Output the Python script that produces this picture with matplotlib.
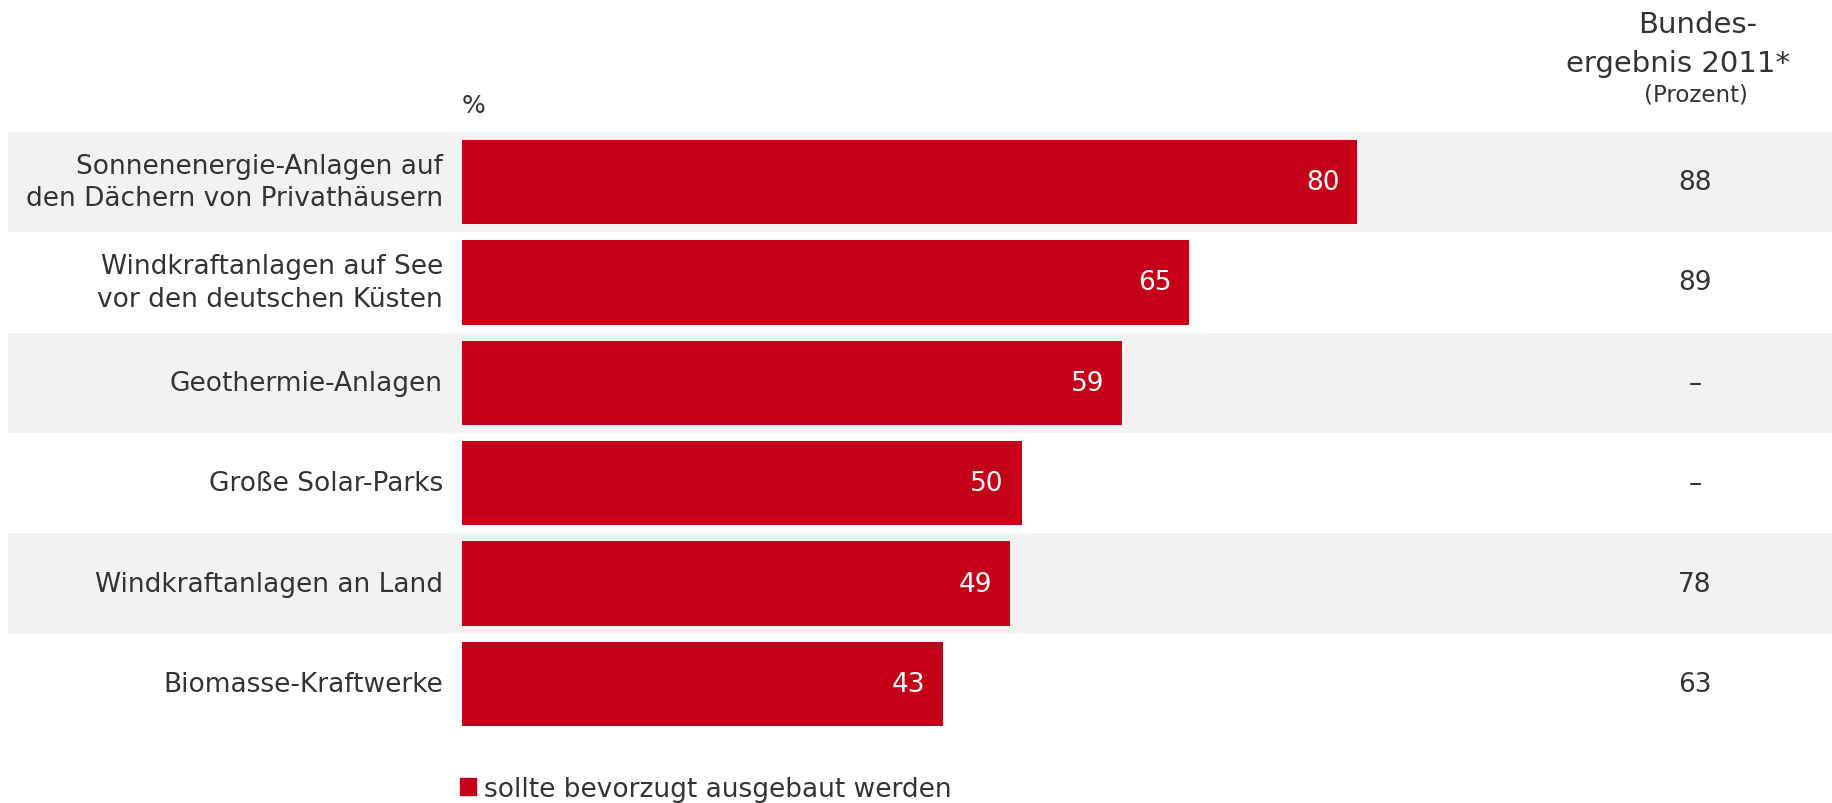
import matplotlib.pyplot as plt
from matplotlib.patches import Patch

categories = [
    "Sonnenenergie-Anlagen auf\nden Dächern von Privathäusern",
    "Windkraftanlagen auf See\nvor den deutschen Küsten",
    "Geothermie-Anlagen",
    "Große Solar-Parks",
    "Windkraftanlagen an Land",
    "Biomasse-Kraftwerke",
]
values = [80, 65, 59, 50, 49, 43]
bund_2011 = ["88", "89", "–", "–", "78", "63"]

RED = "#c40018"
GREY = "#f2f2f2"
TXT = "#333333"

W, H = 1833, 804
fig = plt.figure(figsize=(W / 100, H / 100), dpi=100)
ax = fig.add_axes([0, 0, 1, 1])

# axis limits chosen so that x=0 sits at the bar baseline and rows are ~100 px apart
px_per_unit = 11.19
x0 = 462
row0, pitch = 183, 100.4
ax.set_xlim(-x0 / px_per_unit, (W - x0) / px_per_unit)
ax.set_ylim((H - row0) / pitch, -row0 / pitch)
ax.axis("off")

def xpx(p):
    return (p - x0) / px_per_unit

def ypx(p):
    return (p - row0) / pitch

xmin_band = 8 / W
for i in range(len(categories)):
    if i % 2 == 0:
        ax.axhspan(i - 0.5, i + 0.5, xmin=xmin_band, xmax=1, color=GREY, lw=0, zorder=0)

ax.barh(range(len(values)), values, height=0.84, color=RED, zorder=2)

fs = 19
for i, (cat, v, b) in enumerate(zip(categories, values, bund_2011)):
    ax.text(-1.7, i, cat, ha="right", va="center", fontsize=fs, color=TXT,
            linespacing=1.35)
    ax.text(v - 1.6, i, str(v), ha="right", va="center", fontsize=fs, color="white")
    ax.text(xpx(1695), i, b, ha="center", va="center", fontsize=fs, color=TXT)

# column header and unit
ax.text(xpx(1698), ypx(33), "Bundes-", ha="center", va="baseline", fontsize=21, color=TXT)
ax.text(xpx(1678), ypx(72), "ergebnis 2011*", ha="center", va="baseline", fontsize=21, color=TXT)
ax.text(xpx(1696), ypx(101), "(Prozent)", ha="center", va="baseline", fontsize=16.5, color=TXT)
ax.text(0, ypx(113), "%", ha="left", va="baseline", fontsize=18, color=TXT)

leg = ax.legend(handles=[Patch(color=RED, label="sollte bevorzugt ausgebaut werden")],
                loc="lower left", bbox_to_anchor=(460 / W, 1 / H),
                bbox_transform=fig.transFigure, frameon=False, fontsize=fs,
                handlelength=0.6, handleheight=0.6, handletextpad=0.3,
                borderpad=0, borderaxespad=0)
for t in leg.get_texts():
    t.set_color(TXT)

fig.savefig("out.png", dpi=100)
